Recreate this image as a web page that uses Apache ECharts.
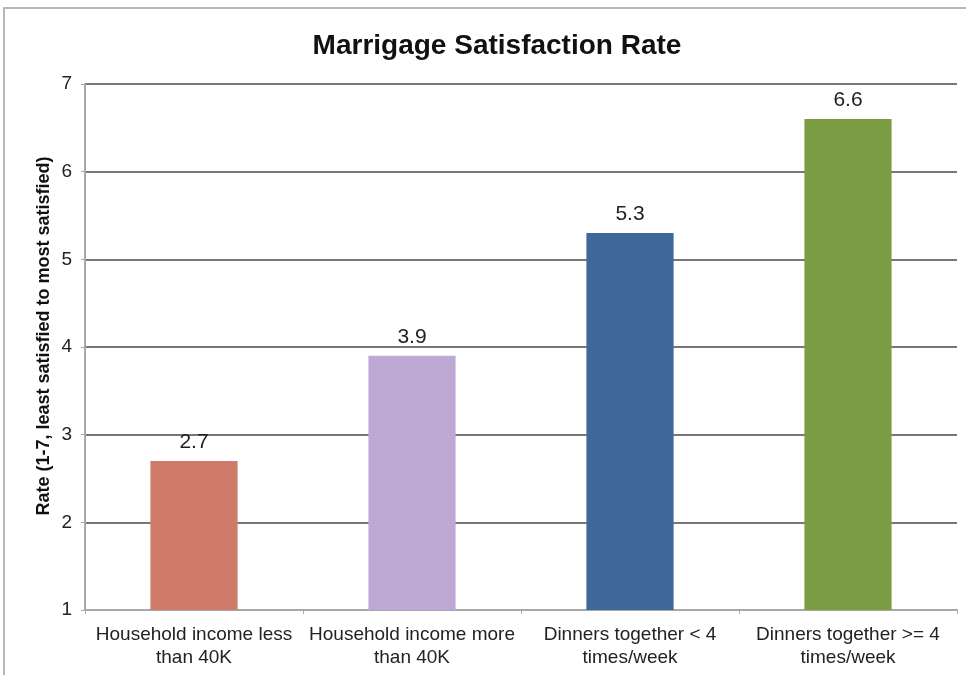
<!DOCTYPE html>
<html>
<head>
<meta charset="utf-8">
<script src="https://cdn.jsdelivr.net/npm/echarts@6/dist/echarts.min.js"></script>
<style>
  html, body { margin: 0; padding: 0; background: #ffffff; }
  #chart { width: 966px; height: 675px; }
</style>
</head>
<body>
<div id="chart"></div>
<script>
// Categories and satisfaction ratings
const categories = [
  'Household income less\nthan 40K',
  'Household income more\nthan 40K',
  'Dinners together < 4\ntimes/week',
  'Dinners together >= 4\ntimes/week'
];
const ratings = [2.7, 3.9, 5.3, 6.6];
const barColors = ['#cf7a6a', '#bea9d4', '#3f6799', '#7c9c44'];
const yTicks = [1, 2, 3, 4, 5, 6, 7];
const yAxisTitle = 'Rate (1-7, least satisfied to most satisfied)';

const FONT = '"Liberation Sans", Arial, sans-serif';

const chart = echarts.init(document.getElementById('chart'), null, { renderer: 'canvas' });

chart.setOption({
  backgroundColor: '#ffffff',
  animation: false,
  title: {
    text: 'Marrigage Satisfaction Rate',
    left: 492,
    top: 27,
    textAlign: 'center',
    textStyle: { fontFamily: FONT, fontSize: 28, fontWeight: 'bold', color: '#111111' }
  },
  graphic: [
    {
      type: 'rect',
      shape: { x: 4, y: 8, width: 1000, height: 700 },
      style: { fill: 'none', stroke: '#b8b8b8', lineWidth: 2 },
      silent: true
    },
    {
      type: 'text',
      x: 44,
      y: 336,
      rotation: Math.PI / 2,
      style: {
        text: yAxisTitle,
        fontFamily: FONT,
        fontSize: 18,
        fontWeight: 'bold',
        fill: '#111111',
        align: 'center',
        verticalAlign: 'middle'
      },
      silent: true
    }
  ],
  grid: { left: 85, right: 9, top: 84, bottom: 65 },
  xAxis: {
    type: 'category',
    data: categories,
    axisLine: { lineStyle: { color: '#a8a8a8', width: 2 } },
    axisTick: { show: true, alignWithLabel: false, length: 4, lineStyle: { color: '#a8a8a8' } },
    axisLabel: {
      fontFamily: FONT, fontSize: 19, color: '#222222', lineHeight: 23, margin: 13, interval: 0
    }
  },
  yAxis: {
    type: 'value',
    min: yTicks[0],
    max: yTicks[yTicks.length - 1],
    interval: 1,
    axisLine: { show: true, lineStyle: { color: '#a8a8a8', width: 2 } },
    axisTick: { show: true, length: 4, lineStyle: { color: '#a8a8a8' } },
    axisLabel: { fontFamily: FONT, fontSize: 19, color: '#222222', margin: 13 },
    splitLine: { lineStyle: { color: '#777777', width: 2 } }
  },
  series: [{
    type: 'bar',
    data: ratings.map((v, i) => ({ value: v, itemStyle: { color: barColors[i] } })),
    barWidth: '40%',
    label: {
      show: true,
      position: 'top',
      distance: 8,
      fontFamily: FONT,
      fontSize: 21,
      color: '#222222',
      formatter: p => p.value.toFixed(1)
    }
  }]
});
</script>
</body>
</html>
